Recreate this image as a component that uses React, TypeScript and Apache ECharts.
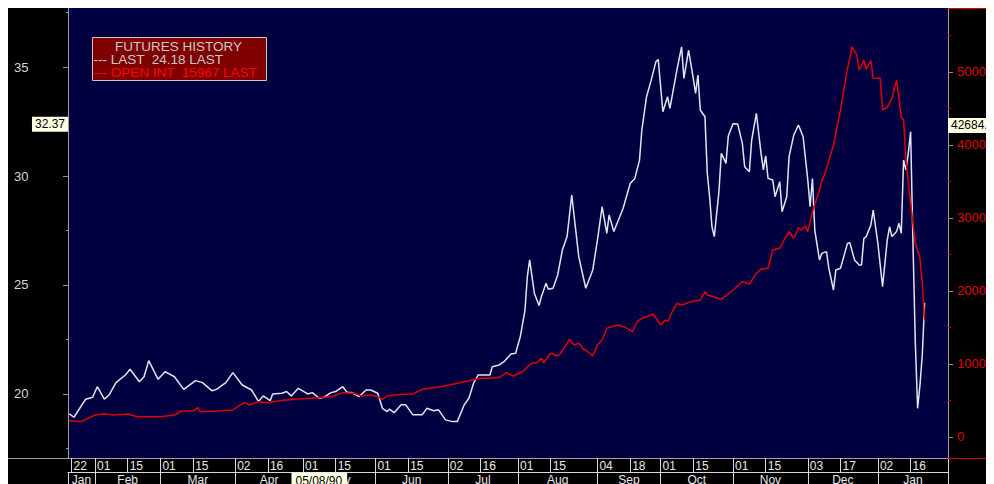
import React, { useEffect, useRef } from 'react';
import * as echarts from 'echarts';

// ---- Data ----
const priceData: [string, number][] = [
  ['1990-01-21', 19.08], ['1990-01-23', 18.93], ['1990-01-28', 19.76], ['1990-01-31', 19.85],
  ['1990-02-02', 20.33], ['1990-02-05', 19.76], ['1990-02-07', 19.95], ['1990-02-10', 20.52],
  ['1990-02-14', 20.87], ['1990-02-16', 21.13], ['1990-02-20', 20.56], ['1990-02-22', 20.79],
  ['1990-02-24', 21.53], ['1990-02-28', 20.67], ['1990-03-03', 21.02], ['1990-03-07', 20.79],
  ['1990-03-11', 20.21], ['1990-03-16', 20.61], ['1990-03-19', 20.52], ['1990-03-23', 20.15],
  ['1990-03-25', 20.21], ['1990-03-29', 20.52], ['1990-04-01', 20.98], ['1990-04-05', 20.41],
  ['1990-04-09', 20.18], ['1990-04-12', 19.65], ['1990-04-14', 19.91], ['1990-04-17', 19.69],
  ['1990-04-18', 20.0], ['1990-04-22', 20.03], ['1990-04-24', 20.11], ['1990-04-26', 19.91],
  ['1990-04-29', 20.26], ['1990-05-03', 20.0], ['1990-05-05', 20.06], ['1990-05-08', 19.8],
  ['1990-05-10', 19.85], ['1990-05-13', 20.06], ['1990-05-15', 20.11], ['1990-05-18', 20.33],
  ['1990-05-20', 20.06], ['1990-05-22', 20.06], ['1990-05-25', 19.88], ['1990-05-28', 20.18],
  ['1990-05-30', 20.18], ['1990-06-02', 20.03], ['1990-06-04', 19.34], ['1990-06-06', 19.19],
  ['1990-06-07', 19.3], ['1990-06-09', 19.14], ['1990-06-12', 19.5], ['1990-06-14', 19.5],
  ['1990-06-17', 19.04], ['1990-06-21', 19.04], ['1990-06-23', 19.34], ['1990-06-26', 19.23],
  ['1990-06-28', 19.27], ['1990-07-01', 18.81], ['1990-07-04', 18.73], ['1990-07-06', 18.73],
  ['1990-07-09', 19.5], ['1990-07-11', 19.8], ['1990-07-13', 20.49], ['1990-07-15', 20.87],
  ['1990-07-20', 20.87], ['1990-07-21', 21.25], ['1990-07-24', 21.33], ['1990-07-26', 21.48],
  ['1990-07-29', 21.83], ['1990-07-31', 21.87], ['1990-08-02', 22.63], ['1990-08-04', 23.85],
  ['1990-08-05', 25.38], ['1990-08-06', 26.15], ['1990-08-08', 24.62], ['1990-08-10', 24.06],
  ['1990-08-11', 24.46], ['1990-08-13', 25.08], ['1990-08-14', 24.8], ['1990-08-16', 24.85],
  ['1990-08-18', 25.46], ['1990-08-20', 26.61], ['1990-08-22', 27.22], ['1990-08-24', 29.13],
  ['1990-08-27', 26.3], ['1990-08-30', 24.85], ['1990-09-02', 25.69], ['1990-09-04', 27.06],
  ['1990-09-06', 28.59], ['1990-09-08', 27.37], ['1990-09-09', 28.21], ['1990-09-11', 27.45],
  ['1990-09-15', 28.52], ['1990-09-18', 29.66], ['1990-09-20', 29.89], ['1990-09-22', 30.73],
  ['1990-09-23', 32.11], ['1990-09-25', 33.64], ['1990-09-27', 34.4], ['1990-09-29', 35.24],
  ['1990-09-30', 35.35], ['1990-10-02', 32.95], ['1990-10-04', 33.64], ['1990-10-05', 33.1],
  ['1990-10-08', 34.86], ['1990-10-10', 35.93], ['1990-10-11', 34.48], ['1990-10-13', 35.78],
  ['1990-10-15', 34.48], ['1990-10-16', 33.79], ['1990-10-17', 34.63], ['1990-10-18', 33.03],
  ['1990-10-20', 32.72], ['1990-10-21', 30.12], ['1990-10-22', 29.05], ['1990-10-23', 27.67],
  ['1990-10-24', 27.22], ['1990-10-26', 29.3], ['1990-10-27', 31.04], ['1990-10-29', 30.58],
  ['1990-10-30', 31.84], ['1990-11-01', 32.4], ['1990-11-03', 32.39], ['1990-11-05', 31.5],
  ['1990-11-06', 30.43], ['1990-11-08', 30.2], ['1990-11-09', 31.65], ['1990-11-11', 32.88],
  ['1990-11-13', 31.04], ['1990-11-14', 30.28], ['1990-11-15', 30.92], ['1990-11-16', 29.89],
  ['1990-11-18', 29.82], ['1990-11-19', 29.05], ['1990-11-21', 29.74], ['1990-11-22', 28.36],
  ['1990-11-24', 29.05], ['1990-11-25', 30.89], ['1990-11-27', 31.88], ['1990-11-29', 32.34],
  ['1990-12-01', 31.8], ['1990-12-03', 29.82], ['1990-12-04', 28.59], ['1990-12-05', 29.89],
  ['1990-12-06', 27.52], ['1990-12-08', 26.15], ['1990-12-09', 26.45], ['1990-12-11', 26.53],
  ['1990-12-12', 25.77], ['1990-12-14', 24.77], ['1990-12-15', 25.69], ['1990-12-17', 25.77],
  ['1990-12-20', 26.91], ['1990-12-21', 26.94], ['1990-12-23', 26.15], ['1990-12-25', 25.92],
  ['1990-12-26', 25.92], ['1990-12-27', 27.14], ['1990-12-28', 27.22], ['1990-12-30', 27.75],
  ['1990-12-31', 28.44], ['1991-01-02', 26.91], ['1991-01-04', 24.92], ['1991-01-06', 27.06],
  ['1991-01-07', 27.67], ['1991-01-08', 27.22], ['1991-01-10', 27.45], ['1991-01-11', 27.83],
  ['1991-01-12', 27.37], ['1991-01-13', 30.73], ['1991-01-14', 30.28], ['1991-01-15', 31.04],
  ['1991-01-16', 32.03], ['1991-01-17', 27.0], ['1991-01-18', 22.4], ['1991-01-19', 19.34],
  ['1991-01-20', 20.4], ['1991-01-21', 21.8], ['1991-01-22', 24.18],
];

const openIntData: [string, number][] = [
  ['1990-01-21', 2233], ['1990-01-26', 2100], ['1990-02-01', 3014], ['1990-02-05', 3150],
  ['1990-02-09', 3014], ['1990-02-15', 3150], ['1990-02-19', 2785], ['1990-03-01', 2785],
  ['1990-03-07', 3014], ['1990-03-10', 3562], ['1990-03-15', 3562], ['1990-03-17', 4018],
  ['1990-03-18', 3470], ['1990-03-25', 3562], ['1990-04-01', 3700], ['1990-04-03', 4155],
  ['1990-04-06', 4703], ['1990-04-08', 4384], ['1990-04-12', 4840], ['1990-04-16', 4703],
  ['1990-04-21', 4977], ['1990-04-27', 5160], ['1990-05-05', 5297], ['1990-05-10', 5434],
  ['1990-05-14', 5616], ['1990-05-18', 6073], ['1990-05-23', 5982], ['1990-05-26', 5616],
  ['1990-05-30', 5753], ['1990-06-02', 5525], ['1990-06-04', 5160], ['1990-06-06', 5616],
  ['1990-06-13', 5845], ['1990-06-17', 5890], ['1990-06-21', 6530], ['1990-06-29', 6895],
  ['1990-07-06', 7352], ['1990-07-11', 7712], ['1990-07-16', 8041], ['1990-07-20', 8041],
  ['1990-07-24', 8178], ['1990-07-27', 8808], ['1990-07-30', 8356], ['1990-08-03', 8945],
  ['1990-08-05', 9548], ['1990-08-07', 10178], ['1990-08-09', 10096], ['1990-08-11', 10781],
  ['1990-08-12', 10178], ['1990-08-15', 11466], ['1990-08-18', 11096], ['1990-08-19', 11370],
  ['1990-08-22', 12836], ['1990-08-23', 13384], ['1990-08-25', 12603], ['1990-08-27', 12836],
  ['1990-08-29', 12014], ['1990-08-30', 11918], ['1990-09-02', 11096], ['1990-09-04', 12603],
  ['1990-09-06', 13288], ['1990-09-08', 14890], ['1990-09-11', 15205], ['1990-09-13', 15342],
  ['1990-09-16', 15027], ['1990-09-19', 14425], ['1990-09-21', 15795], ['1990-09-23', 16260],
  ['1990-09-25', 16479], ['1990-09-28', 16808], ['1990-10-01', 15342], ['1990-10-03', 16027],
  ['1990-10-04', 15795], ['1990-10-06', 17164], ['1990-10-08', 18315], ['1990-10-10', 18082],
  ['1990-10-14', 18534], ['1990-10-18', 18767], ['1990-10-20', 19904], ['1990-10-21', 19452],
  ['1990-10-27', 18863], ['1990-11-01', 20137], ['1990-11-05', 21274], ['1990-11-08', 20959],
  ['1990-11-11', 22425], ['1990-11-13', 22973], ['1990-11-16', 23110], ['1990-11-18', 25616],
  ['1990-11-21', 25849], ['1990-11-23', 27082], ['1990-11-25', 28123], ['1990-11-27', 27219],
  ['1990-11-29', 28671], ['1990-11-30', 28356], ['1990-12-02', 28904], ['1990-12-03', 28123],
  ['1990-12-05', 30863], ['1990-12-08', 33836], ['1990-12-09', 35205], ['1990-12-10', 35753],
  ['1990-12-14', 40000], ['1990-12-17', 44795], ['1990-12-20', 50507], ['1990-12-22', 53466],
  ['1990-12-24', 52329], ['1990-12-25', 50274], ['1990-12-27', 51644], ['1990-12-28', 50370],
  ['1990-12-30', 51548], ['1990-12-31', 49137], ['1991-01-03', 49137], ['1991-01-04', 44795],
  ['1991-01-06', 45164], ['1991-01-08', 46397], ['1991-01-10', 48904], ['1991-01-12', 43877],
  ['1991-01-13', 43425], ['1991-01-14', 37945], ['1991-01-16', 32014], ['1991-01-17', 29274],
  ['1991-01-18', 26534], ['1991-01-20', 24479], ['1991-01-21', 21055], ['1991-01-22', 15967],
];

const dayTicks = [
  '1990-01-22', '1990-02-01', '1990-02-15', '1990-03-01', '1990-03-15', '1990-04-02', '1990-04-16',
  '1990-05-01', '1990-05-15', '1990-06-01', '1990-06-15', '1990-07-02', '1990-07-16', '1990-08-01',
  '1990-08-15', '1990-09-04', '1990-09-18', '1990-10-01', '1990-10-15', '1990-11-01', '1990-11-15',
  '1990-12-03', '1990-12-17', '1991-01-02', '1991-01-16',
];
const dayTickLabels = [
  '22', '01', '15', '01', '15', '02', '16', '01', '15', '01', '15', '02', '16', '01',
  '15', '04', '18', '01', '15', '01', '15', '03', '17', '02', '16',
];
const monthStarts = [
  '1990-02-01', '1990-03-01', '1990-04-02', '1990-05-01', '1990-06-01', '1990-07-02',
  '1990-08-01', '1990-09-04', '1990-10-01', '1990-11-01', '1990-12-03', '1991-01-02',
];
const monthNames = ['Jan', 'Feb', 'Mar', 'Apr', 'May', 'Jun', 'Jul', 'Aug', 'Sep', 'Oct', 'Nov', 'Dec', 'Jan'];

const priceTicks = [20, 25, 30, 35];
const priceMinorTicks = [17.5, 22.5, 27.5, 32.5, 37.5];
const openIntTicks = [0, 10000, 20000, 30000, 40000, 50000];
const openIntMinorTicks = [5000, 15000, 25000, 35000, 45000, 55000];

const X_MIN = '1990-01-20 11:00';
const X_MAX = '1991-02-01 00:00';
const PRICE_MIN = 17.06;
const PRICE_MAX = 37.71;
const OI_MIN = -2877;
const OI_MAX = 58767;

const cursorPrice = 32.37;
const cursorOpenInt = 42684.6;
const cursorDate = '1990-05-08';
const cursorDateLabel = '05/08/90';

const legendTitle = 'FUTURES HISTORY';

// ---- helpers ----
const ts = (s: string): number => {
  const m = s.match(/(\d+)-(\d+)-(\d+)(?:\s+(\d+):(\d+))?/)!;
  return new Date(+m[1], +m[2] - 1, +m[3], +(m[4] || 0), +(m[5] || 0)).getTime();
};
const nearest = (vals: number[], labels: string[], v: number) => {
  let bi = 0;
  let bd = Infinity;
  vals.forEach((t, i) => {
    const d = Math.abs(t - v);
    if (d < bd) {
      bd = d;
      bi = i;
    }
  });
  return labels[bi];
};

const FONT = 'Liberation Sans';
const GRID = { left: 60, right: 46, top: 0, bottom: 26 };
const W = 986;
const H = 476;

export default function App() {
  const ref = useRef<HTMLDivElement>(null);

  useEffect(() => {
    const chart = echarts.init(ref.current!, null, { renderer: 'svg' });
    const xMin = ts(X_MIN);
    const xMax = ts(X_MAX);
    const dayTickTs = dayTicks.map((d) => Math.max(ts(d), xMin));
    const monthEdges = [xMin, ...monthStarts.map(ts), xMax];
    const monthMid = monthNames.map((_, i) => Math.round((monthEdges[i] + monthEdges[i + 1]) / 2));

    const xBase = {
      type: 'value',
      min: xMin,
      max: xMax,
      position: 'bottom',
      splitLine: { show: false },
      splitArea: { show: false },
    };

    const option: any = {
      animation: false,
      backgroundColor: '#000000',
      grid: {
        ...GRID,
        show: true,
        backgroundColor: '#000040',
        borderWidth: 0,
        containLabel: false,
        outerBoundsMode: 'none',
      },
      xAxis: [
        {
          ...xBase,
          axisLine: { show: true, onZero: false, lineStyle: { color: '#a0a0a0', width: 1 } },
          axisTick: {
            show: true,
            inside: false,
            customValues: [...dayTickTs, xMax],
            length: 14,
            lineStyle: { color: '#d8d8d8', width: 1 },
          },
          axisLabel: {
            show: true,
            customValues: dayTickTs,
            formatter: (v: number) => nearest(dayTickTs, dayTickLabels, v),
            color: '#e8e8e8',
            fontFamily: FONT,
            fontSize: 12,
            lineHeight: 12,
            align: 'left',
            margin: 2,
            padding: [0, 0, 0, 2],
            hideOverlap: false,
          },
        },
        {
          ...xBase,
          offset: 14,
          axisLine: { show: true, onZero: false, lineStyle: { color: '#d8d8d8', width: 1 } },
          axisTick: {
            show: true,
            inside: false,
            customValues: monthEdges,
            length: 14,
            lineStyle: { color: '#d8d8d8', width: 1 },
          },
          axisLabel: {
            show: true,
            customValues: monthMid,
            formatter: (v: number) => nearest(monthMid, monthNames, v),
            color: '#e8e8e8',
            fontFamily: FONT,
            fontSize: 12,
            lineHeight: 12,
            align: 'center',
            margin: 2,
            hideOverlap: false,
          },
        },
      ],
      yAxis: [
        {
          type: 'value',
          position: 'left',
          min: PRICE_MIN,
          max: PRICE_MAX,
          splitLine: { show: false },
          axisLine: { show: true, onZero: false, lineStyle: { color: '#a0a0a0', width: 1 } },
          axisTick: { show: true, customValues: priceTicks, length: 5, lineStyle: { color: '#909090' } },
          axisLabel: {
            show: true,
            customValues: priceTicks,
            formatter: (v: number) => String(v),
            color: '#d8d8d8',
            fontFamily: FONT,
            fontSize: 13,
            align: 'left',
            margin: 54,
          },
        },
        {
          type: 'value',
          position: 'right',
          min: OI_MIN,
          max: OI_MAX,
          splitLine: { show: false },
          axisLine: { show: true, onZero: false, lineStyle: { color: '#a0a0a0', width: 1 } },
          axisTick: { show: true, customValues: openIntTicks, length: 5, lineStyle: { color: '#909090' } },
          axisLabel: {
            show: true,
            customValues: openIntTicks,
            formatter: (v: number) => String(v),
            color: '#e00000',
            fontFamily: FONT,
            fontSize: 13,
            align: 'left',
            margin: 9,
          },
        },
        {
          type: 'value',
          position: 'left',
          min: PRICE_MIN,
          max: PRICE_MAX,
          splitLine: { show: false },
          axisLine: { show: false, onZero: false },
          axisLabel: { show: false },
          axisTick: { show: true, customValues: priceMinorTicks, length: 2, lineStyle: { color: '#909090' } },
        },
        {
          type: 'value',
          position: 'right',
          min: OI_MIN,
          max: OI_MAX,
          splitLine: { show: false },
          axisLine: { show: false, onZero: false },
          axisLabel: { show: false },
          axisTick: { show: true, customValues: openIntMinorTicks, length: 3, lineStyle: { color: '#e00000' } },
        },
      ],
      series: [
        {
          name: 'LAST',
          type: 'line',
          xAxisIndex: 0,
          yAxisIndex: 0,
          showSymbol: false,
          symbol: 'none',
          data: priceData.map(([d, v]) => [ts(d), v]),
          lineStyle: { color: '#e4e4f0', width: 1.5 },
          z: 3,
        },
        {
          name: 'OPEN INT',
          type: 'line',
          xAxisIndex: 0,
          yAxisIndex: 1,
          showSymbol: false,
          symbol: 'none',
          data: openIntData.map(([d, v]) => [ts(d), v]),
          lineStyle: { color: '#e00000', width: 1.5 },
          z: 4,
        },
      ],
    };
    chart.setOption(option);

    const yP = chart.convertToPixel({ yAxisIndex: 0 }, cursorPrice) as number;
    const yO = chart.convertToPixel({ yAxisIndex: 1 }, cursorOpenInt) as number;
    const xD = chart.convertToPixel({ xAxisIndex: 0 }, ts(cursorDate)) as number;

    const plotRight = W - GRID.right;
    const plotBottom = H - GRID.bottom;
    const lastPrice = priceData[priceData.length - 1][1].toFixed(2);
    const lastOI = String(openIntData[openIntData.length - 1][1]);

    const txt = (x: number, y: number, text: string, fill: string, extra: any = {}) => ({
      type: 'text',
      x,
      y,
      z: 100,
      style: {
        text,
        fill,
        fontFamily: FONT,
        fontSize: 13,
        lineHeight: 13,
        align: 'left',
        verticalAlign: 'middle',
        textAlign: 'left',
        textVerticalAlign: 'middle',
        ...extra,
      },
    });
    const cursorBox = {
      fill: '#000000',
      backgroundColor: '#ffffe1',
      fontSize: 12,
      lineHeight: 12,
      padding: [2, 3, 1, 3],
    };

    chart.setOption({
      graphic: [
        { type: 'line', z: 90, shape: { x1: plotRight, y1: 0.5, x2: W, y2: 0.5 }, style: { stroke: '#e00000', lineWidth: 1 } },
        { type: 'line', z: 90, shape: { x1: plotRight, y1: plotBottom + 0.5, x2: W, y2: plotBottom + 0.5 }, style: { stroke: '#e00000', lineWidth: 1 } },
        { type: 'line', z: 90, shape: { x1: 0, y1: plotBottom + 0.5, x2: GRID.left, y2: plotBottom + 0.5 }, style: { stroke: '#a0a0a0', lineWidth: 1 } },
        {
          type: 'rect',
          z: 99,
          shape: { x: 84.5, y: 29.5, width: 174, height: 43 },
          style: { fill: '#800000', stroke: '#c8c8c8', lineWidth: 1 },
        },
        txt(107, 38, legendTitle, '#c8c8c8', { fontSize: 13.5 }),
        txt(85.5, 51, `--- LAST  ${lastPrice} LAST`, '#c8c8c8', { fontSize: 13.5 }),
        txt(85.5, 64, `--- OPEN INT  ${lastOI} LAST`, '#ff0000', { fontSize: 13.5 }),
        txt(GRID.left, yP, String(cursorPrice), '#000', { ...cursorBox, align: 'right', textAlign: 'right' }),
        txt(plotRight, yO, String(cursorOpenInt), '#000', { ...cursorBox }),
        txt(xD, plotBottom + 14.5, cursorDateLabel, '#000', {
          ...cursorBox,
          padding: [2, 5, 1, 4],
          align: 'center',
          textAlign: 'center',
          verticalAlign: 'top',
          textVerticalAlign: 'top',
        }),
      ],
    });

    return () => chart.dispose();
  }, []);

  return <div ref={ref} style={{ width: W, height: H }} />;
}
